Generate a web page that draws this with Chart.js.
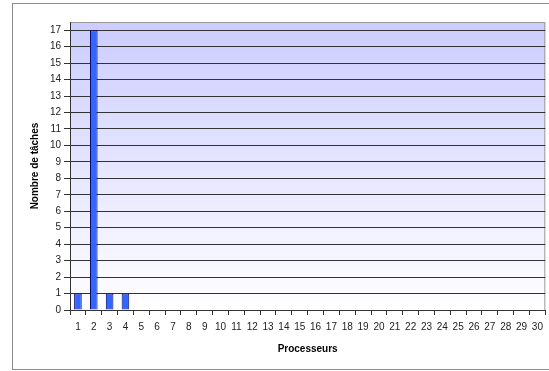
<!DOCTYPE html>
<html>
<head>
<meta charset="utf-8">
<script src="https://cdn.jsdelivr.net/npm/chart.js@4/dist/chart.umd.min.js"></script>
<style>
  html, body { margin: 0; padding: 0; background: #ffffff; }
  #wrap { width: 549px; height: 371px; position: relative; }
</style>
</head>
<body>
<div id="wrap"><canvas id="c" width="549" height="371"></canvas></div>
<script>
// Processor numbers (x categories)
const processeurs = ['1','2','3','4','5','6','7','8','9','10','11','12','13','14','15',
  '16','17','18','19','20','21','22','23','24','25','26','27','28','29','30'];
// Number of tasks per processor
const nbTaches = [1, 17, 1, 1, 0, 0, 0, 0, 0, 0, 0, 0, 0, 0, 0,
  0, 0, 0, 0, 0, 0, 0, 0, 0, 0, 0, 0, 0, 0, 0];
// Y tick values
const yTicks = [0, 1, 2, 3, 4, 5, 6, 7, 8, 9, 10, 11, 12, 13, 14, 15, 16, 17];
const yMax = 17.5;

// Outer frame and plot-area background/border
const framePlugin = {
  id: 'frame',
  beforeDraw(chart) {
    const ctx = chart.ctx, a = chart.chartArea;
    ctx.save();
    ctx.fillStyle = '#ffffff';
    ctx.fillRect(0, 0, chart.width, chart.height);
    ctx.strokeStyle = '#8c8c8c';
    ctx.lineWidth = 1;
    ctx.strokeRect(12.5, 3.5, 600, 366);
    const g = ctx.createLinearGradient(0, a.top, 0, a.bottom);
    g.addColorStop(0, '#ccccff');
    g.addColorStop(1, '#ffffff');
    ctx.fillStyle = g;
    ctx.fillRect(a.left, a.top, a.right - a.left, a.bottom - a.top);
    ctx.strokeStyle = '#9a9a9a';
    ctx.strokeRect(a.left + 0.5, a.top + 0.5, a.right - a.left - 1, a.bottom - a.top);
    ctx.restore();
  }
};

new Chart(document.getElementById('c'), {
  type: 'bar',
  data: {
    labels: processeurs,
    datasets: [{
      data: nbTaches,
      backgroundColor: '#3366ff',
      borderColor: '#000066',
      borderWidth: 1,
      borderSkipped: 'start',
      categoryPercentage: 1,
      barPercentage: 0.48
    }]
  },
  options: {
    responsive: false,
    animation: false,
    devicePixelRatio: 1,
    layout: { padding: { left: 0, top: 22, right: 3, bottom: 0 } },
    plugins: { legend: { display: false }, tooltip: { enabled: false } },
    scales: {
      x: {
        afterFit(s) { s.height = 61; },
        grid: { drawOnChartArea: false, drawTicks: true, tickLength: 5, color: '#333333', offset: true },
        border: { color: '#333333' },
        ticks: { autoSkip: false, maxRotation: 0, padding: 6, color: '#222222',
                 font: { family: 'Liberation Sans', size: 10 } },
        title: { display: true, text: 'Processeurs', color: '#000000',
                 font: { family: 'Liberation Sans', size: 10, weight: 'bold' },
                 padding: { top: 4, bottom: 16 } }
      },
      y: {
        min: 0, max: yMax,
        afterFit(s) { s.width = 70; },
        afterBuildTicks(s) { s.ticks = yTicks.map(v => ({ value: v })); },
        grid: { color: '#333333', tickLength: 6, lineWidth: 1 },
        border: { color: '#333333' },
        ticks: { stepSize: 1, padding: 3, color: '#222222',
                 font: { family: 'Liberation Sans', size: 10 } },
        title: { display: true, text: 'Nombre de tâches', color: '#000000',
                 font: { family: 'Liberation Sans', size: 10, weight: 'bold' },
                 padding: { top: 29, bottom: 4 } }
      }
    }
  },
  plugins: [framePlugin]
});
</script>
</body>
</html>
